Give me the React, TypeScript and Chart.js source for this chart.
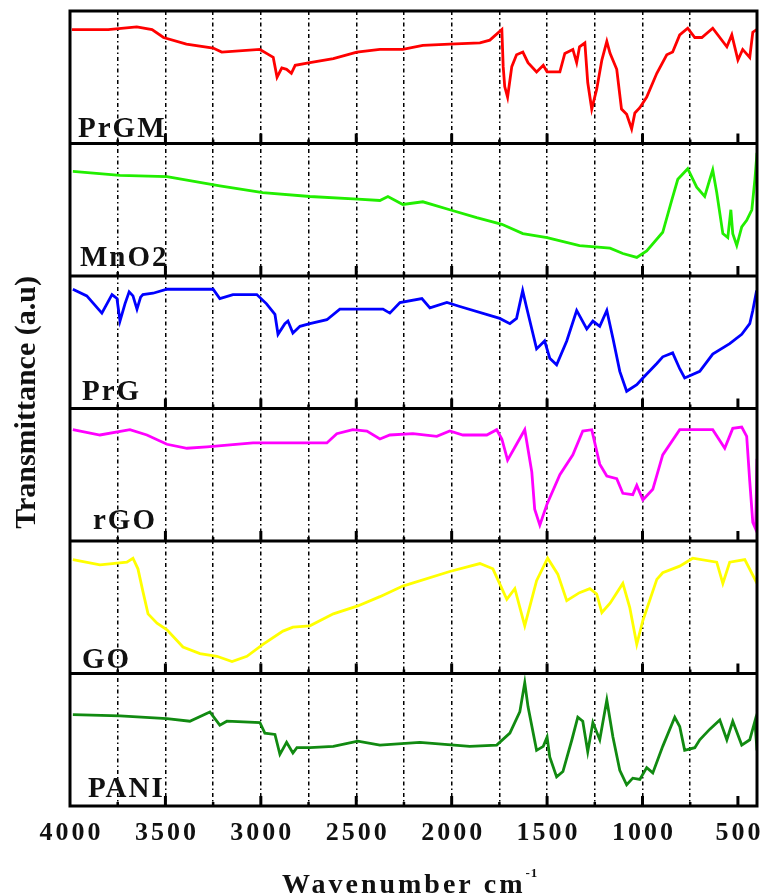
import React, { useEffect, useRef } from "react";
import { Chart, registerables } from "chart.js";

Chart.register(...registerables);

// FTIR spectra, one panel per sample (top to bottom). Transmittance in a.u. (0-100 within its panel).
const prgmWn = [3990, 3800, 3650, 3570, 3510, 3390, 3250, 3205, 3005, 2970, 2935, 2915, 2890, 2865, 2840, 2820, 2743, 2620, 2497, 2376, 2256, 2151, 2010, 1852, 1800, 1737, 1730, 1722, 1707, 1685, 1660, 1627, 1600, 1555, 1520, 1500, 1433, 1407, 1365, 1345, 1330, 1302, 1287, 1266, 1240, 1213, 1187, 1170, 1135, 1110, 1083, 1057, 1040, 1014, 978, 925, 873, 842, 805, 763, 726, 689, 632, 558, 532, 500, 475, 438, 422, 402];
const prgmT = [86, 86, 88, 86, 80, 75, 72, 69, 71, 68, 65, 50, 57, 56, 53, 59, 61, 64, 69, 71, 71, 74, 75, 76, 78, 86, 58, 43, 35, 58, 67, 69, 61, 54, 59, 54, 54, 68, 71, 61, 73, 76, 46, 26, 41, 63, 77, 68, 56, 26, 22, 11, 23, 27, 35, 53, 67, 69, 82, 87, 80, 80, 87, 73, 82, 63, 71, 65, 84, 86];

const mno2Wn = [3985, 3738, 3492, 3215, 2990, 2743, 2492, 2376, 2334, 2256, 2151, 2010, 1869, 1737, 1627, 1500, 1330, 1170, 1103, 1030, 978, 894, 847, 815, 763, 716, 674, 647, 632, 611, 579, 553, 537, 527, 506, 480, 454, 427, 411, 400];
const mno2T = [79, 76, 75, 68, 63, 60, 58, 57, 60, 54, 56, 50, 44, 39, 32, 29, 23, 21, 17, 14, 19, 33, 57, 73, 81, 67, 60, 73, 80, 63, 32, 29, 50, 32, 23, 37, 42, 50, 73, 93];

const prgWn = [3985, 3912, 3833, 3780, 3754, 3738, 3712, 3690, 3670, 3649, 3630, 3618, 3565, 3492, 3250, 3215, 3146, 3021, 2970, 2926, 2910, 2874, 2858, 2832, 2795, 2743, 2654, 2586, 2360, 2324, 2271, 2156, 2114, 2025, 1957, 1748, 1695, 1660, 1628, 1607, 1555, 1513, 1486, 1450, 1397, 1345, 1292, 1260, 1224, 1187, 1155, 1119, 1083, 1030, 998, 925, 894, 842, 805, 779, 700, 632, 543, 480, 438, 422, 402];
const prgT = [90, 85, 72, 86, 83, 66, 79, 88, 85, 75, 84, 86, 87, 90, 90, 83, 86, 86, 79, 71, 56, 64, 66, 57, 62, 64, 67, 75, 75, 72, 80, 83, 76, 80, 77, 68, 64, 68, 89, 76, 45, 51, 38, 33, 51, 74, 60, 66, 62, 74, 53, 28, 13, 18, 23, 34, 39, 42, 30, 23, 28, 41, 49, 56, 64, 74, 89];

const rgoWn = [3985, 3843, 3686, 3597, 3492, 3387, 3282, 3041, 2795, 2654, 2602, 2518, 2444, 2376, 2324, 2203, 2078, 2010, 1941, 1816, 1764, 1737, 1707, 1660, 1617, 1580, 1565, 1538, 1500, 1433, 1365, 1313, 1266, 1224, 1187, 1135, 1103, 1051, 1030, 998, 946, 894, 805, 632, 569, 527, 480, 454, 438, 422, 407, 400];
const rgoT = [84, 80, 84, 80, 73, 70, 71, 74, 74, 74, 81, 84, 83, 77, 80, 81, 79, 83, 80, 80, 84, 77, 61, 73, 84, 52, 24, 12, 28, 50, 65, 83, 84, 58, 49, 47, 36, 35, 42, 31, 39, 65, 84, 84, 70, 85, 86, 79, 45, 14, 9, 62];

const goWn = [3985, 3843, 3702, 3670, 3644, 3618, 3591, 3544, 3492, 3408, 3319, 3230, 3151, 3073, 2989, 2884, 2832, 2743, 2620, 2492, 2376, 2256, 2010, 1852, 1784, 1711, 1669, 1617, 1555, 1497, 1444, 1397, 1330, 1276, 1240, 1213, 1170, 1103, 1067, 1030, 998, 925, 894, 805, 737, 611, 579, 543, 464, 400];
const goT = [86, 82, 84, 87, 79, 62, 45, 38, 33, 20, 15, 13, 9, 13, 22, 32, 35, 36, 45, 51, 58, 66, 77, 83, 79, 56, 64, 36, 70, 87, 75, 55, 61, 64, 60, 46, 53, 68, 50, 22, 40, 71, 76, 81, 87, 84, 68, 84, 86, 68];

const paniWn = [3985, 3738, 3492, 3372, 3267, 3215, 3178, 3005, 2979, 2926, 2900, 2865, 2832, 2811, 2743, 2620, 2492, 2376, 2167, 1905, 1764, 1695, 1643, 1617, 1600, 1555, 1520, 1500, 1486, 1450, 1417, 1370, 1339, 1313, 1287, 1260, 1224, 1187, 1155, 1119, 1083, 1051, 1014, 978, 946, 894, 831, 805, 779, 726, 700, 647, 595, 558, 527, 480, 438, 411, 400];
const paniT = [69, 68, 66, 64, 71, 61, 64, 63, 55, 54, 39, 48, 40, 44, 44, 45, 49, 46, 48, 45, 46, 55, 71, 93, 75, 42, 45, 52, 37, 22, 26, 50, 67, 64, 41, 63, 50, 80, 52, 27, 16, 21, 20, 29, 25, 45, 67, 60, 42, 44, 50, 58, 65, 50, 64, 46, 50, 64, 42];

const panelNames = ["PrGM", "MnO2", "PrG", "rGO", "GO", "PANI"];
const panelWn = [prgmWn, mno2Wn, prgWn, rgoWn, goWn, paniWn];
const panelT = [prgmT, mno2T, prgT, rgoT, goT, paniT];
const panelColors = ["#ff0000", "#22ee00", "#0000ff", "#ff00ff", "#ffff00", "#118a11"];

// Wavenumber axis (cm-1), drawn high to low
const xMin = 400;
const xMax = 4000;
const xGridValues = [4000, 3750, 3500, 3250, 3000, 2750, 2500, 2250, 2000, 1750, 1500, 1250, 1000, 750, 500];
const xTickLabels = [4000, 3500, 3000, 2500, 2000, 1500, 1000, 500];

// label placement inside each panel: left inset and gap above the panel floor
const labelInset = [8, 10, 12, 23, 12, 18];
const labelGap = [7, 10, 9, 12, 6, 9];

const SERIF = '"Liberation Serif", "Times New Roman", serif';

const framePlugin = {
  id: "ftirFrame",
  afterDraw(chart: any) {
    const { ctx, chartArea: a, scales } = chart;
    const xs = scales.x;
    const ys = scales.y;
    const n = panelNames.length;
    ctx.save();
    ctx.strokeStyle = "#000";
    ctx.lineCap = "butt";

    // inward tick marks on the floor of every panel
    for (let k = 0; k < n; k++) {
      const yb = ys.getPixelForValue(k);
      for (const v of xGridValues) {
        if (v === xMax) continue;
        const px = xs.getPixelForValue(v);
        const major = v % 500 === 0;
        ctx.lineWidth = major ? 3 : 2.5;
        ctx.beginPath();
        ctx.moveTo(px, yb);
        ctx.lineTo(px, yb - (major ? 10 : 4));
        ctx.stroke();
      }
    }

    // panel separators and outer frame
    ctx.lineWidth = 3;
    for (let k = 1; k < n; k++) {
      const y = ys.getPixelForValue(k);
      ctx.beginPath();
      ctx.moveTo(a.left, y);
      ctx.lineTo(a.right, y);
      ctx.stroke();
    }
    ctx.strokeRect(a.left, a.top, a.right - a.left, a.bottom - a.top);

    ctx.fillStyle = "#111";
    ctx.textBaseline = "alphabetic";

    // panel names
    ctx.font = `bold 29px ${SERIF}`;
    ctx.letterSpacing = "2px";
    ctx.textAlign = "left";
    for (let i = 0; i < n; i++) {
      const yb = ys.getPixelForValue(n - 1 - i);
      ctx.fillText(panelNames[i], a.left + labelInset[i], yb - labelGap[i]);
    }

    // x tick labels
    ctx.font = `bold 26px ${SERIF}`;
    ctx.letterSpacing = "3px";
    ctx.textAlign = "center";
    for (const v of xTickLabels) {
      const px = xs.getPixelForValue(v);
      ctx.fillText(String(v), px + 1.5, a.bottom + 34);
    }

    // x title with superscript
    ctx.font = `bold 28px ${SERIF}`;
    ctx.letterSpacing = "3px";
    ctx.textAlign = "left";
    const title = "Wavenumber cm";
    const tx = 282;
    ctx.fillText(title, tx, 893);
    const tw = ctx.measureText(title).width;
    ctx.font = `bold 13px ${SERIF}`;
    ctx.letterSpacing = "1px";
    ctx.fillText("-1", tx + tw, 877);

    // y title
    ctx.font = `bold 30px ${SERIF}`;
    ctx.letterSpacing = "0px";
    ctx.textAlign = "center";
    ctx.translate(35, (a.top + a.bottom) / 2 - 6);
    ctx.rotate(-Math.PI / 2);
    ctx.fillText("Transmittance (a.u)", 0, 0);
    ctx.restore();
  },
};

export default function App() {
  const canvasRef = useRef<HTMLCanvasElement | null>(null);

  useEffect(() => {
    const canvas = canvasRef.current;
    if (!canvas) return;
    const n = panelNames.length;
    const datasets = panelNames.map((name, i) => {
      const offset = n - 1 - i;
      return {
        label: name,
        data: panelWn[i].map((w, j) => ({ x: w, y: offset + panelT[i][j] / 100 })),
        borderColor: panelColors[i],
        backgroundColor: panelColors[i],
        borderWidth: 2.8,
        pointRadius: 0,
        tension: 0,
        fill: false,
      };
    });

    const chart = new Chart(canvas, {
      type: "line",
      data: { datasets },
      options: {
        animation: false,
        responsive: false,
        maintainAspectRatio: false,
        layout: { padding: { left: 70, right: 7, top: 11, bottom: 0 } },
        plugins: { legend: { display: false }, tooltip: { enabled: false } },
        scales: {
          x: {
            type: "linear",
            reverse: true,
            min: xMin,
            max: xMax,
            afterBuildTicks: (s: any) => {
              s.ticks = xGridValues.map((v) => ({ value: v }));
            },
            afterFit: (s: any) => {
              s.height = 89;
            },
            border: { display: false, dash: [4, 3, 1.5, 3] },
            grid: {
              drawTicks: false,
              lineWidth: 1.5,
              color: (c: any) =>
                c.tick && c.tick.value >= 750 && c.tick.value <= 3750 ? "#000" : "rgba(0,0,0,0)",
            },
            ticks: { display: false },
          },
          y: {
            display: false,
            min: 0,
            max: n,
          },
        },
      },
      plugins: [framePlugin],
    } as any);

    return () => chart.destroy();
  }, []);

  return (
    <div style={{ position: "absolute", left: 0, top: 0, width: 764, height: 895, background: "#fff" }}>
      <canvas ref={canvasRef} width={764} height={895} style={{ width: 764, height: 895, display: "block" }} />
    </div>
  );
}
